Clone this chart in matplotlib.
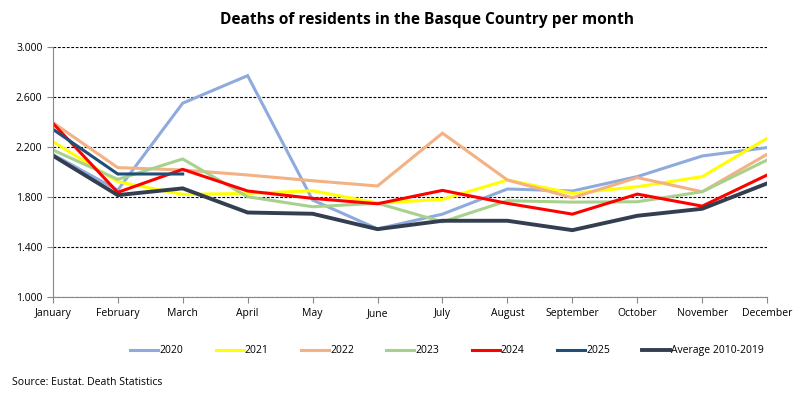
import matplotlib.pyplot as plt
from matplotlib.ticker import FuncFormatter

plt.rcParams['font.family'] = ['Open Sans', 'DejaVu Sans']

months = ["January", "February", "March", "April", "May", "June", "July",
          "August", "September", "October", "November", "December"]

deaths_2020 = [2140, 1855, 2550, 2770, 1776, 1545, 1663, 1864, 1848, 1963, 2128, 2195]
deaths_2021 = [2243, 1922, 1821, 1829, 1850, 1752, 1781, 1936, 1829, 1882, 1963, 2270]
deaths_2022 = [2396, 2035, 2016, 1976, 1930, 1888, 2310, 1936, 1794, 1955, 1842, 2142]
deaths_2023 = [2176, 1941, 2104, 1802, 1722, 1750, 1601, 1770, 1759, 1762, 1842, 2096]
deaths_2024 = [2390, 1837, 2021, 1848, 1789, 1746, 1853, 1749, 1663, 1823, 1727, 1976]
deaths_2025 = [2342, 1984, 1984]
deaths_avg = [2131, 1815, 1869, 1676, 1666, 1543, 1610, 1610, 1535, 1650, 1706, 1909]

series = [
    ("2020", deaths_2020, "#8FAADC", 2.2),
    ("2021", deaths_2021, "#FFFF00", 2.2),
    ("2022", deaths_2022, "#F4B183", 2.2),
    ("2023", deaths_2023, "#A9D18E", 2.2),
    ("2024", deaths_2024, "#FF0000", 2.2),
    ("2025", deaths_2025, "#1F4E79", 2.2),
    ("Average 2010-2019", deaths_avg, "#333F50", 2.8),
]

fig = plt.figure(figsize=(8, 3.94), dpi=100)
ax = fig.add_axes([0.066, 0.246, 0.893, 0.635])

for label, vals, color, lw in series:
    ax.plot(range(len(vals)), vals, color=color, lw=lw, label=label,
            solid_joinstyle='miter')

ax.set_xlim(0, 11)
ax.set_ylim(1000, 3000)
ax.set_yticks(range(1000, 3001, 400))
ax.yaxis.set_major_formatter(FuncFormatter(lambda v, p: f"{int(v):,}".replace(",", ".")))
ax.set_xticks(range(12))
ax.set_xticklabels(months)
ax.tick_params(axis='both', labelsize=7.5, color='#888888', length=4)
ax.tick_params(axis='x', pad=4)

ax.yaxis.grid(True, linestyle=(0, (2.5, 1.5)), color='black', lw=0.8)
ax.set_axisbelow(True)
for s in ['top', 'right']:
    ax.spines[s].set_visible(False)
for s in ['left', 'bottom']:
    ax.spines[s].set_color('#888888')

fig.suptitle("Deaths of residents in the Basque Country per month",
             fontsize=11.2, fontweight='bold', x=0.534, y=0.97)

fig.legend(loc='center', bbox_to_anchor=(0.559, 0.11), ncol=7, frameon=False,
           fontsize=7.5, handlelength=2.7, handletextpad=0.1, columnspacing=3.1)

fig.text(0.015, 0.022, "Source: Eustat. Death Statistics", fontsize=7.5)

plt.savefig("out.png", dpi=100)
